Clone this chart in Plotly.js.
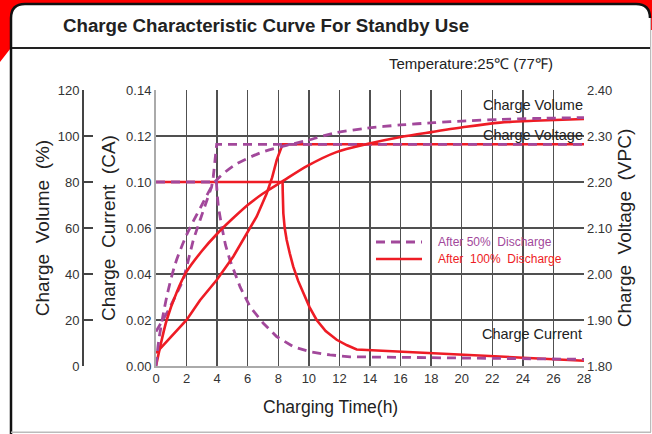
<!DOCTYPE html>
<html>
<head>
<meta charset="utf-8">
<script src="https://cdn.plot.ly/plotly-3.0.1.min.js"></script>
<style>
html,body{margin:0;padding:0;background:#fff;}
#wrap{position:relative;width:652px;height:434px;}
#chart{width:652px;height:434px;}
.rule{position:absolute;pointer-events:none;z-index:10;}
</style>
</head>
<body>
<div id="wrap">
<div id="chart"></div>
<div class="rule" style="left:12px;top:47px;width:638px;height:2px;background:#222;"></div>
<div class="rule" style="left:11px;top:431.5px;width:640px;height:1.5px;background:#bbbbbb;"></div>
</div>
<script>
// ---- data ----
var xTicks = [0, 2, 4, 6, 8, 10, 12, 14, 16, 18, 20, 22, 24, 26, 28];
var currentTickVals = [0.02, 0.04, 0.06, 0.08, 0.10, 0.12, 0.14];
var currentTickText = ["0.00", "0.02", "0.04", "0.06", "0.10", "0.12", "0.14"];
var voltageTicks = [1.80, 1.90, 2.00, 2.10, 2.20, 2.30, 2.40];
var volumeTicks = [0, 20, 40, 60, 80, 100, 120];

// After 50% discharge
var vol50X = [0, 0.2, 0.7, 1.24, 2, 3, 3.85, 5.06, 6.8, 8.33, 9.86, 11.6, 13.8, 16, 18.2, 20.3, 22.5, 24.7, 28];
var vol50Y = [0, 12, 30, 44, 57, 70, 80, 87, 92.6, 95.6, 98, 101.2, 103.4, 104.8, 105.8, 106.6, 107.2, 107.6, 108];
var volt50X = [0, 0.8, 1.79, 2.44, 2.88, 3.42, 3.64, 3.75, 3.86, 3.97, 28];
var volt50Y = [1.875, 1.92, 1.987, 2.074, 2.117, 2.172, 2.19, 2.212, 2.255, 2.282, 2.282];
var cur50X = [0, 3.95, 4.0, 4.08, 4.30, 4.55, 4.84, 5.50, 6.15, 7.02, 7.89, 8.98, 10.07, 11.38, 12.69, 16, 20, 24, 28];
var cur50Y = [0.10, 0.10, 0.095, 0.0892, 0.0806, 0.0725, 0.066, 0.0544, 0.0458, 0.0386, 0.0328, 0.0284, 0.0262, 0.0248, 0.024, 0.0238, 0.0234, 0.0232, 0.0229];

// After 100% discharge
var vol100X = [0, 0.26, 0.7, 1.35, 2, 3, 4, 5, 6, 7, 8.2, 9.9, 11.8, 13.8, 16, 18.1, 20.3, 22.5, 24.7, 28];
var vol100Y = [0, 8, 20, 32, 41, 50, 57.5, 64, 70, 75, 80, 87, 93, 96.5, 99.6, 101.8, 104, 105.8, 106.6, 107.4];
var volt100X = [0, 2, 2.88, 3.97, 5.06, 5.93, 6.59, 7.24, 7.6, 7.9, 8.1, 8.28, 28];
var volt100Y = [1.828, 1.90, 1.943, 1.987, 2.038, 2.088, 2.125, 2.175, 2.21, 2.248, 2.268, 2.282, 2.282];
var cur100X = [0, 8.28, 8.29, 8.33, 8.42, 8.55, 8.75, 8.98, 9.3, 9.64, 10.05, 10.51, 11.1, 11.82, 12.5, 13.13, 16, 20.3, 24.7, 28];
var cur100Y = [0.10, 0.10, 0.096, 0.0864, 0.080, 0.0748, 0.069, 0.0632, 0.057, 0.0516, 0.0455, 0.04, 0.0352, 0.0314, 0.029, 0.0272, 0.0262, 0.0248, 0.0234, 0.0223];

var legendNames = ["After 50%\u00a0\u00a0Discharge", "After\u00a0\u00a0100%\u00a0\u00a0Discharge"];

// ---- styling ----
var PURPLE = "#a2489b", RED = "#ee1c25", GRID = "#505050";
var FONT = "Liberation Sans, Arial, sans-serif";
var W = 652, H = 434, ml = 60, mr = 68, mt = 90, mb = 68;
var pw = W - ml - mr, ph = H - mt - mb;
function PX(px) { return (px - ml) / pw; }
function PY(py) { return (H - mb - py) / ph; }
function P(px, py) { return PX(px).toFixed(5) + "," + PY(py).toFixed(5); }
function seg(x0, y0, x1, y1, width, color, dash) {
  var l = {width: width, color: color};
  if (dash) l.dash = dash;
  return {type: "path", xref: "paper", yref: "paper", layer: "above", line: l, path: "M" + P(x0, y0) + " L" + P(x1, y1)};
}
function rect(x0, y0, x1, y1, color) {
  return {type: "rect", xref: "paper", yref: "paper", layer: "above", line: {width: 0}, fillcolor: color,
          x0: PX(x0), x1: PX(x1), y0: PY(y1), y1: PY(y0)};
}

function redLine(shape) { return {color: RED, width: 2.6, shape: shape, smoothing: 0.8}; }
function purpleLine(shape) { return {color: PURPLE, width: 2.8, dash: "9px,6px", shape: shape, smoothing: 0.8}; }

var traces = [
  {x: cur100X, y: cur100Y, yaxis: "y", line: redLine("linear")},
  {x: cur50X, y: cur50Y, yaxis: "y", line: purpleLine("linear")},
  {x: volt100X, y: volt100Y, yaxis: "y2", line: redLine("linear")},
  {x: volt50X, y: volt50Y, yaxis: "y2", line: purpleLine("linear")},
  {x: vol100X, y: vol100Y, yaxis: "y3", line: redLine("spline")},
  {x: vol50X, y: vol50Y, yaxis: "y3", line: purpleLine("spline")}
];
traces.forEach(function (t) { t.type = "scatter"; t.mode = "lines"; t.showlegend = false; t.hoverinfo = "skip"; });

var shapes = [
  // red corner decoration
  {type: "path", xref: "paper", yref: "paper", layer: "below", line: {width: 0}, fillcolor: "#ff0000",
   path: "M" + P(0, 0) + " L" + P(652, 0) + " L" + P(652, 30) + " L" + P(14, 30) + " L" + P(14, 44) + " L" + P(0, 62) + " Z"},
  // white panel
  {type: "path", xref: "paper", yref: "paper", layer: "below", line: {width: 0}, fillcolor: "#ffffff",
   path: "M" + P(11, 440) + " L" + P(11, 18) + " Q" + P(11, 4) + " " + P(25, 4) + " L" + P(636, 4) + " Q" + P(650, 4) + " " + P(650, 18) + " L" + P(650, 440) + " Z"},
  // black border left/top
  {type: "path", xref: "paper", yref: "paper", layer: "below", line: {width: 2.5, color: "#111"},
   path: "M" + P(11, 440) + " L" + P(11, 18) + " Q" + P(11, 4) + " " + P(25, 4) + " L" + P(636, 4) + " Q" + P(650, 4) + " " + P(650, 18)},
  rect(650, 18, 651.2, 432, "#bbbbbb"),
  rect(11, 431.6, 651, 433, "#bbbbbb"),
  rect(12, 47, 650, 49, "#222222"),
  // legend samples
  seg(376, 242, 422, 242, 2.8, PURPLE, "9px,6px"),
  seg(376, 259, 422, 259, 2.6, RED)
];

function ann(text, px, py, xanchor, size, color) {
  return {text: text, xref: "paper", yref: "paper", x: PX(px), y: PY(py), xanchor: xanchor, yanchor: "middle",
          showarrow: false, font: {family: FONT, size: size, color: color}};
}
var annotations = [
  ann("<b>Charge Characteristic Curve For Standby Use</b>", 61, 25, "left", 18.7, "#222"),
  ann("Temperature:25\u2103 (77\u2109)", 387, 63, "left", 15, "#222"),
  ann("Charge Volume", 585, 105, "right", 14.5, "#222"),
  ann("Charge Voltage", 585, 135, "right", 14.5, "#222"),
  ann("Charge Current", 584, 334, "right", 14.5, "#222"),
  ann(legendNames[0], 436, 242, "left", 12, PURPLE),
  ann(legendNames[1], 436, 259, "left", 12, RED),
  ann("Charging Time(h)", 330, 407, "center", 17.5, "#222")
];

var tickFont = {family: FONT, size: 13, color: "#333"};
var layout = {
  width: W, height: H,
  margin: {l: ml, r: mr, t: mt, b: mb, pad: 0},
  paper_bgcolor: "#ffffff", plot_bgcolor: "rgba(0,0,0,0)",
  showlegend: false,
  font: {family: FONT, color: "#222"},
  xaxis: {
    domain: [(156 - ml) / pw, 1], range: [0, 28], tickvals: xTicks, ticktext: xTicks.map(String),
    showgrid: true, gridcolor: GRID, gridwidth: 1.5, zeroline: false,
    showline: true, linecolor: "#aaaaaa", linewidth: 2,
    ticks: "", ticklabelstandoff: -1, tickfont: tickFont, fixedrange: true
  },
  yaxis: {
    range: [0.02, 0.14], tickvals: currentTickVals, ticktext: currentTickText,
    showgrid: true, gridcolor: GRID, gridwidth: 1.5, zeroline: false,
    showline: true, linecolor: "#aaaaaa", linewidth: 2,
    ticks: "", tickfont: tickFont, fixedrange: true,
    title: {text: "Charge\u00a0\u00a0Current\u00a0\u00a0(CA)", font: {family: FONT, size: 19, color: "#222"}, standoff: 5}
  },
  yaxis2: {
    overlaying: "y", side: "right", anchor: "x",
    range: [1.8, 2.4], tickvals: voltageTicks, tickformat: ".2f",
    showgrid: false, zeroline: false, showline: false, ticks: "", ticklabelstandoff: 2, tickfont: tickFont, fixedrange: true,
    title: {text: "Charge\u00a0\u00a0Voltage\u00a0\u00a0(VPC)", font: {family: FONT, size: 19, color: "#222"}, standoff: 6}
  },
  yaxis3: {
    overlaying: "y", side: "left", anchor: "free", position: (83 - ml) / pw,
    range: [0, 120], tickvals: volumeTicks,
    showgrid: false, zeroline: false, showline: true, linecolor: "#444", linewidth: 2,
    ticks: "inside", ticklen: 9, tickcolor: "#444", tickwidth: 1.5, tickfont: tickFont, fixedrange: true,
    title: {text: "Charge\u00a0\u00a0Volume\u00a0\u00a0(%)", font: {family: FONT, size: 19, color: "#222"}, standoff: 2}
  },
  shapes: shapes,
  annotations: annotations
};

Plotly.newPlot("chart", traces, layout, {displayModeBar: false, staticPlot: true});
</script>
</body>
</html>
